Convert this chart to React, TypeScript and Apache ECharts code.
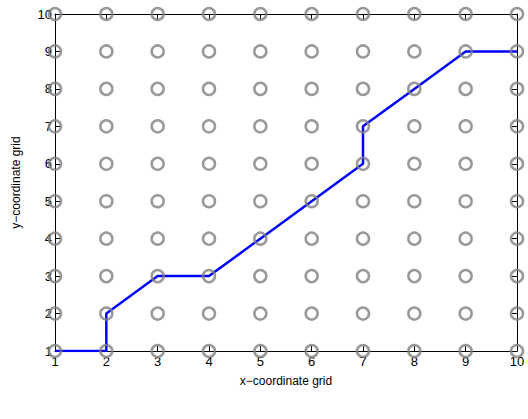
import React, { useEffect, useRef } from "react";
import * as echarts from "echarts";

const gridX = [1, 2, 3, 4, 5, 6, 7, 8, 9, 10];
const gridY = [1, 2, 3, 4, 5, 6, 7, 8, 9, 10];
const pathX = [1, 2, 2, 3, 4, 5, 6, 7, 7, 8, 9, 10];
const pathY = [1, 1, 2, 3, 3, 4, 5, 6, 7, 8, 9, 9];
const xTitle = "x\u2212coordinate grid";
const yTitle = "y\u2212coordinate grid";

export default function App() {
  const ref = useRef<HTMLDivElement>(null);
  useEffect(() => {
    if (!ref.current) return;
    const chart = echarts.init(ref.current, undefined, { renderer: "svg" });
    const pts: number[][] = [];
    gridX.forEach((x) => gridY.forEach((y) => pts.push([x, y])));
    const font = "Liberation Sans, Arial, sans-serif";
    const baseAxis = {
      type: "value" as const,
      min: 1,
      max: 10,
      interval: 1,
      splitLine: { show: false },
      axisLine: { show: true, onZero: false, lineStyle: { color: "#000", width: 1 } },
      axisTick: { show: true, inside: true, length: 5, lineStyle: { color: "#000" } },
    };
    chart.setOption({
      animation: false,
      backgroundColor: "#fff",
      grid: { left: 55, right: 11, top: 14, bottom: 68 },
      xAxis: [
        {
          ...baseAxis,
          position: "bottom",
          name: xTitle,
          nameLocation: "middle",
          nameGap: 24,
          nameTextStyle: { fontFamily: font, fontSize: 12, color: "#000" },
          axisLabel: { fontFamily: font, fontSize: 13, color: "#000", margin: 4 },
        },
        { ...baseAxis, position: "top", axisLabel: { show: false } },
      ],
      yAxis: [
        {
          ...baseAxis,
          position: "left",
          name: yTitle,
          nameLocation: "middle",
          nameGap: 33,
          nameTextStyle: { fontFamily: font, fontSize: 12, color: "#000" },
          axisLabel: { fontFamily: font, fontSize: 13, color: "#000", margin: 3 },
        },
        { ...baseAxis, position: "right", axisLabel: { show: false } },
      ],
      series: [
        {
          type: "line",
          data: pathX.map((x, i) => [x, pathY[i]]),
          symbol: "none",
          lineStyle: { color: "#0000ff", width: 2.5 },
          z: 3,
        },
        {
          type: "scatter",
          data: pts,
          symbol: "circle",
          symbolSize: 12,
          itemStyle: { color: "none", borderColor: "#7f7f7f", borderWidth: 2.5 },
          z: 4,
        },
      ],
    });
    return () => chart.dispose();
  }, []);
  return (
    <div
      ref={ref}
      style={{ position: "absolute", left: 0, top: 0, width: 528, height: 419 }}
    />
  );
}
